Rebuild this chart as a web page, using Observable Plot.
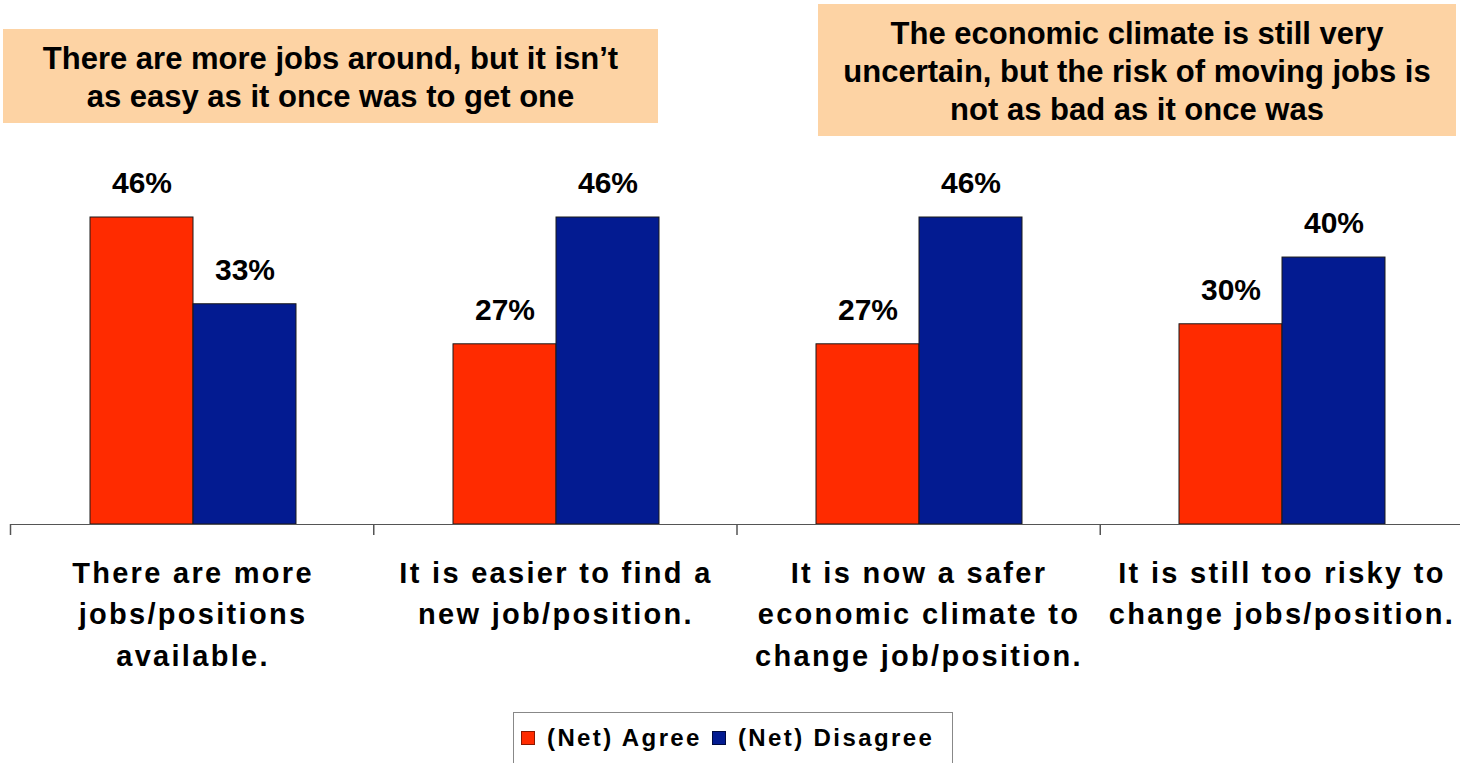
<!DOCTYPE html>
<html><head><meta charset="utf-8">
<script src="https://cdn.jsdelivr.net/npm/d3@7"></script>
<script src="https://cdn.jsdelivr.net/npm/@observablehq/plot@0.6"></script>
<style>
body{margin:0;background:#fff;}
#wrap{position:relative;width:1460px;height:763px;overflow:hidden;font-family:"Liberation Sans",Arial,sans-serif;}
.note{position:absolute;background:#fdd3a4;display:flex;flex-direction:column;align-items:center;justify-content:center;text-align:center;font-weight:bold;font-size:31px;line-height:38px;color:#000;box-sizing:border-box;padding-top:4px;}
#legend{position:absolute;left:513px;top:712px;width:440px;height:56px;border:1px solid #888;box-sizing:border-box;display:flex;align-items:center;padding-left:7px;padding-bottom:4px;font-weight:bold;font-size:24px;letter-spacing:2.4px;color:#000;}
#legend .sw{display:inline-block;width:14px;height:14px;box-sizing:border-box;margin-right:12px;}
#legend .item{display:flex;align-items:center;margin-right:10px;}
g[aria-label="fx-axis tick label"]{letter-spacing:2.3px;font-weight:bold;}
</style>
</head><body>
<div id="wrap"></div>
<script>
const categories = [
  "There are more\njobs/positions\navailable.",
  "It is easier to find a\nnew job/position.",
  "It is now a safer\neconomic climate to\nchange job/position.",
  "It is still too risky to\nchange jobs/position."
];
const series = ["(Net) Agree", "(Net) Disagree"];
const agree = [46, 27, 27, 30];
const disagree = [33, 46, 46, 40];
const colors = ["#ff2b00", "#031b91"];
const strokes = ["#8a1800", "#000a40"];
const note1 = ["There are more jobs around, but it isn\u2019t", "as easy as it once was to get one"];
const note2 = ["The economic climate is still very", "uncertain, but the risk of moving jobs is", "not as bad as it once was"];

const data = [];
categories.forEach((c, i) => {
  data.push({cat: c, series: series[0], value: agree[i]});
  data.push({cat: c, series: series[1], value: disagree[i]});
});

const plot = Plot.plot({
  width: 1460,
  height: 700,
  marginLeft: 10,
  marginRight: -3,
  marginTop: 217,
  marginBottom: 176,
  style: {fontFamily: '"Liberation Sans", Arial, sans-serif', background: "transparent", overflow: "visible"},
  fx: {domain: categories, padding: 0, label: null},
  x: {domain: series, paddingInner: 0, paddingOuter: 0.751, axis: null},
  y: {domain: [0, 46], axis: null},
  color: {domain: series, range: colors},
  marks: [
    Plot.barY(data, {fx: "cat", x: "series", y: "value", fill: "series", stroke: "#1a1a1a", strokeWidth: 1}),
    Plot.ruleY([0], {stroke: "#555", strokeWidth: 1.2}),
    Plot.text(data, {fx: "cat", x: "series", y: "value", text: d => d.value + "%", dy: -34, fontSize: 30, fontWeight: "bold", fill: "#000"}),
    Plot.axisFx({anchor: "bottom", tickSize: 0, tickPadding: 29, fontSize: 29, fontWeight: "bold", lineHeight: 1.43, fill: "#000", label: null})
  ]
});

const wrap = document.getElementById("wrap");
wrap.appendChild(plot);

// boundary ticks below the baseline, from Plot's own scales
const fxs = plot.scale("fx");
const ys = plot.scale("y");
const band = d3.scaleBand().domain(fxs.domain).range(fxs.range).paddingInner(fxs.paddingInner || 0).paddingOuter(fxs.paddingOuter || 0);
const ySc = d3.scaleLinear().domain(ys.domain).range(ys.range);
const y0 = ySc(0);
d3.select(plot).append("g").selectAll("line").data(categories).join("line")
  .attr("x1", d => band(d) + 0.5).attr("x2", d => band(d) + 0.5)
  .attr("y1", y0).attr("y2", y0 + 11)
  .attr("stroke", "#555").attr("stroke-width", 1.5);

function makeNote(lines, left, top, w, h) {
  const div = document.createElement("div");
  div.className = "note";
  Object.assign(div.style, {left: left + "px", top: top + "px", width: w + "px", height: h + "px"});
  lines.forEach(l => { const s = document.createElement("div"); s.textContent = l; div.appendChild(s); });
  wrap.appendChild(div);
}
makeNote(note1, 3, 29, 655, 94);
makeNote(note2, 818, 4, 638, 132);

const legend = document.createElement("div");
legend.id = "legend";
series.forEach((s, i) => {
  const it = document.createElement("span"); it.className = "item";
  const sw = document.createElement("span"); sw.className = "sw";
  sw.style.background = colors[i]; sw.style.border = "1px solid " + strokes[i];
  it.appendChild(sw);
  it.appendChild(document.createTextNode(s));
  legend.appendChild(it);
});
wrap.appendChild(legend);
</script>
</body></html>
